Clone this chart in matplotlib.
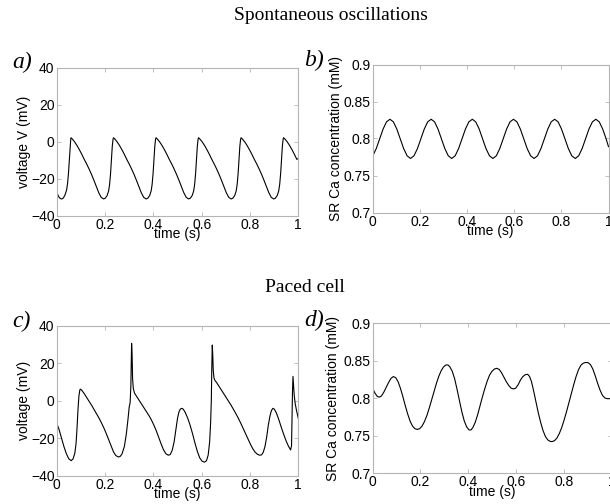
import numpy as np
import matplotlib
matplotlib.use("Agg")
import matplotlib.pyplot as plt

# time (s) / value pairs
# a) spontaneous oscillations, membrane voltage (mV)
t_a = [0.000, 0.005, 0.010, 0.015, 0.021, 0.028, 0.035, 0.041, 0.045, 0.049, 0.053, 0.056, 0.058,
       0.059, 0.064, 0.074, 0.084, 0.094, 0.104, 0.114, 0.124, 0.134, 0.144, 0.154, 0.164, 0.174,
       0.184, 0.194, 0.201, 0.209, 0.215, 0.219, 0.223, 0.227, 0.230, 0.233,
       0.235, 0.240, 0.250, 0.260, 0.270, 0.280, 0.290, 0.300, 0.310, 0.320, 0.330, 0.340, 0.350,
       0.360, 0.370, 0.377, 0.385, 0.391, 0.395, 0.399, 0.403, 0.406, 0.409,
       0.411, 0.416, 0.426, 0.436, 0.446, 0.456, 0.466, 0.476, 0.486, 0.496, 0.506, 0.516, 0.526,
       0.536, 0.546, 0.553, 0.561, 0.567, 0.571, 0.575, 0.579, 0.582, 0.585,
       0.587, 0.592, 0.602, 0.612, 0.622, 0.632, 0.642, 0.652, 0.662, 0.672, 0.682, 0.692, 0.702,
       0.712, 0.722, 0.729, 0.737, 0.743, 0.747, 0.751, 0.755, 0.758, 0.761,
       0.763, 0.768, 0.778, 0.788, 0.798, 0.808, 0.818, 0.828, 0.838, 0.848, 0.858, 0.868, 0.878,
       0.888, 0.898, 0.905, 0.913, 0.919, 0.923, 0.927, 0.931, 0.934, 0.937,
       0.939, 0.944, 0.954, 0.964, 0.974, 0.984, 0.994, 1.000]
v_a = [-26.7, -28.8, -30.0, -30.7, -30.9, -30.3, -28.5, -26.0, -22.5, -16.5, -8.5, -2.0, 1.3,
       2.2, 1.6, 0.0, -2.0, -4.3, -6.8, -9.5, -12.0, -14.7, -17.6, -20.8, -24.2, -27.5,
       -30.0, -30.9, -30.5, -29.0, -26.5, -23.0, -17.0, -9.0, -2.5, 1.2,
       2.2, 1.6, 0.0, -2.0, -4.3, -6.8, -9.5, -12.0, -14.7, -17.6, -20.8, -24.2, -27.5,
       -30.0, -30.9, -30.5, -29.0, -26.5, -23.0, -17.0, -9.0, -2.5, 1.2,
       2.2, 1.6, 0.0, -2.0, -4.3, -6.8, -9.5, -12.0, -14.7, -17.6, -20.8, -24.2, -27.5,
       -30.0, -30.9, -30.5, -29.0, -26.5, -23.0, -17.0, -9.0, -2.5, 1.2,
       2.2, 1.6, 0.0, -2.0, -4.3, -6.8, -9.5, -12.0, -14.7, -17.6, -20.8, -24.2, -27.5,
       -30.0, -30.9, -30.5, -29.0, -26.5, -23.0, -17.0, -9.0, -2.5, 1.2,
       2.2, 1.6, 0.0, -2.0, -4.3, -6.8, -9.5, -12.0, -14.7, -17.6, -20.8, -24.2, -27.5,
       -30.0, -30.9, -30.5, -29.0, -26.5, -23.0, -17.0, -9.0, -2.5, 1.2,
       2.2, 1.6, 0.0, -2.0, -4.3, -6.8, -9.5, -9.0]

# b) spontaneous oscillations, SR Ca (mM)
t_b = [0.000, 0.0012, 0.0158, 0.0303, 0.0449, 0.0594, 0.0739, 0.0885, 0.1030, 0.1176, 0.1321,
       0.1467, 0.1612, 0.1757, 0.1903, 0.2048, 0.2194, 0.2339, 0.2485, 0.2630, 0.2775, 0.2921,
       0.3066, 0.3211, 0.3357, 0.3502, 0.3647, 0.3793, 0.3938, 0.4083, 0.4229, 0.4374, 0.4520,
       0.4665, 0.4810, 0.4956, 0.5101, 0.5247, 0.5392, 0.5537, 0.5683, 0.5828, 0.5974, 0.6119,
       0.6264, 0.6410, 0.6555, 0.6701, 0.6846, 0.6991, 0.7137, 0.7282, 0.7428, 0.7573, 0.7718,
       0.7864, 0.8009, 0.8155, 0.8300, 0.8445, 0.8591, 0.8736, 0.8882, 0.9027, 0.9172, 0.9318,
       0.9463, 0.9609, 0.9754, 0.9899, 1.000]
ca_b = [0.776, 0.7766, 0.7863, 0.7995, 0.8128, 0.8225, 0.826, 0.8225, 0.8128, 0.7995, 0.7863,
        0.7766, 0.773, 0.7766, 0.7863, 0.7995, 0.8128, 0.8225, 0.826, 0.8225, 0.8128, 0.7995,
        0.7863, 0.7766, 0.773, 0.7766, 0.7863, 0.7995, 0.8128, 0.8225, 0.826, 0.8225, 0.8128,
        0.7995, 0.7863, 0.7766, 0.773, 0.7766, 0.7863, 0.7995, 0.8128, 0.8225, 0.826, 0.8225,
        0.8128, 0.7995, 0.7863, 0.7766, 0.773, 0.7766, 0.7863, 0.7995, 0.8128, 0.8225, 0.826,
        0.8225, 0.8128, 0.7995, 0.7863, 0.7766, 0.773, 0.7766, 0.7863, 0.7995, 0.8128, 0.8225,
        0.826, 0.8225, 0.8128, 0.7995, 0.789]

# c) paced cell, voltage (mV)
t_c = [0.000, 0.010, 0.020, 0.030, 0.040, 0.050, 0.060, 0.068, 0.075, 0.080, 0.084, 0.088, 0.092,
       0.096, 0.099, 0.105, 0.115, 0.125, 0.135, 0.145, 0.155, 0.165, 0.175, 0.185, 0.195, 0.205,
       0.215, 0.225, 0.235, 0.245, 0.255, 0.262, 0.270, 0.280, 0.288, 0.295, 0.300, 0.304, 0.307,
       0.309, 0.310, 0.312, 0.314, 0.317, 0.322, 0.332, 0.342, 0.352, 0.362, 0.372, 0.382, 0.392,
       0.402, 0.412, 0.422, 0.432, 0.442, 0.452, 0.462, 0.470, 0.478, 0.486, 0.494, 0.500, 0.506,
       0.512, 0.518, 0.524, 0.532, 0.542, 0.552, 0.562, 0.572, 0.582, 0.592, 0.602, 0.612, 0.620,
       0.627, 0.633, 0.637, 0.640, 0.642, 0.644, 0.646, 0.648, 0.651, 0.656, 0.661, 0.671, 0.681,
       0.691, 0.701, 0.711, 0.721, 0.731, 0.741, 0.751, 0.761, 0.771, 0.781, 0.791, 0.801, 0.811,
       0.821, 0.831, 0.840, 0.848, 0.855, 0.862, 0.869, 0.876, 0.883, 0.889, 0.895, 0.901, 0.909,
       0.919, 0.929, 0.939, 0.949, 0.959, 0.968, 0.972, 0.974, 0.976, 0.978, 0.980, 0.983, 0.987,
       0.993, 1.000]
v_c = [-12.0, -15.5, -20.0, -24.5, -28.3, -31.0, -32.0, -31.0, -28.0, -23.0, -15.0, -5.0, 2.5,
       5.8, 6.1, 5.3, 3.5, 1.5, -0.5, -2.6, -4.8, -7.0, -9.3, -11.8, -14.5, -17.5,
       -20.8, -24.2, -27.3, -29.3, -30.0, -29.8, -28.5, -24.5, -18.0, -10.0, -3.5, -1.0, 8.0,
       25.0, 30.5, 25.0, 12.0, 6.5, 4.0, 2.0, 0.0, -2.0, -4.0, -6.0, -8.0, -10.3,
       -13.0, -16.0, -19.5, -23.0, -26.2, -28.3, -29.1, -28.7, -26.5, -22.0, -15.0, -9.5, -6.0,
       -4.5, -4.1, -4.6, -6.3, -9.3, -13.0, -17.5, -22.5, -27.0, -30.5, -32.3, -32.8, -32.0,
       -29.0, -22.0, -12.0, 0.0, 18.0, 29.6, 24.0, 16.0, 12.0, 10.5, 9.8, 7.8, 5.8,
       3.8, 1.8, -0.2, -2.3, -4.5, -6.8, -9.2, -11.8, -14.6, -17.3, -20.2, -23.0, -25.5,
       -27.4, -28.6, -29.1, -28.9, -27.5, -24.5, -19.5, -13.0, -8.0, -5.2, -4.1, -4.6, -6.5,
       -10.0, -14.0, -17.8, -21.3, -24.2, -26.3, -24.0, -10.0, 5.0, 12.9, 9.0, 3.0, -1.5,
       -5.5, -9.5]

# d) paced cell, SR Ca (mM)
t_d = [0.000, 0.010, 0.020, 0.028, 0.037, 0.047, 0.057, 0.067, 0.077, 0.087, 0.097, 0.107, 0.117,
       0.127, 0.137, 0.147, 0.157, 0.167, 0.177, 0.187, 0.197, 0.207, 0.217, 0.227, 0.237, 0.247,
       0.257, 0.267, 0.277, 0.287, 0.297, 0.307, 0.315, 0.323, 0.333, 0.343, 0.353, 0.363, 0.373,
       0.383, 0.393, 0.403, 0.411, 0.419, 0.429, 0.439, 0.449, 0.459, 0.469, 0.479, 0.489, 0.499,
       0.509, 0.519, 0.529, 0.539, 0.549, 0.559, 0.569, 0.579, 0.589, 0.598, 0.608, 0.618, 0.628,
       0.638, 0.648, 0.656, 0.664, 0.672, 0.682, 0.692, 0.702, 0.712, 0.722, 0.732, 0.742, 0.750,
       0.760, 0.770, 0.780, 0.790, 0.800, 0.810, 0.820, 0.830, 0.840, 0.850, 0.860, 0.870, 0.880,
       0.890, 0.900, 0.910, 0.920, 0.930, 0.940, 0.950, 0.960, 0.970, 0.980, 0.990, 1.000]
ca_d = [0.8135, 0.807, 0.8025, 0.8015, 0.803, 0.808, 0.8145, 0.821, 0.8265, 0.829, 0.8275, 0.822,
        0.813, 0.802, 0.790, 0.779, 0.7695, 0.763, 0.7595, 0.7585, 0.7595, 0.763, 0.769, 0.777,
        0.787, 0.798, 0.809, 0.820, 0.8295, 0.837, 0.842, 0.8445, 0.8445, 0.842, 0.836, 0.826,
        0.812, 0.797, 0.782, 0.770, 0.762, 0.7578, 0.7578, 0.761, 0.768, 0.778, 0.790, 0.802,
        0.813, 0.823, 0.831, 0.836, 0.839, 0.840, 0.8385, 0.834, 0.828, 0.822, 0.817, 0.8135,
        0.8125, 0.8135, 0.818, 0.8245, 0.829, 0.8315, 0.832, 0.829, 0.822, 0.811, 0.796, 0.781,
        0.768, 0.757, 0.749, 0.7445, 0.7425, 0.7423, 0.7435, 0.747, 0.753, 0.761, 0.771, 0.782,
        0.794, 0.806, 0.818, 0.829, 0.838, 0.844, 0.8468, 0.8478, 0.8475, 0.845, 0.839, 0.830,
        0.820, 0.811, 0.804, 0.8005, 0.7995, 0.7995, 0.7995]

x_ticks = [0, 0.2, 0.4, 0.6, 0.8, 1]
x_labels = ["0", "0.2", "0.4", "0.6", "0.8", "1"]
v_ticks = [-40, -20, 0, 20, 40]
v_labels = ["\u221240", "\u221220", "0", "20", "40"]
ca_ticks = [0.7, 0.75, 0.8, 0.85, 0.9]
ca_labels = ["0.7", "0.75", "0.8", "0.85", "0.9"]

plt.rcParams['font.family'] = ['Liberation Sans', 'DejaVu Sans']
W, H = 610, 504
fig = plt.figure(figsize=(W / 100, H / 100), dpi=100)


def px_axes(l, t, r, b):
    return fig.add_axes([l / W, 1 - b / H, (r - l) / W, (b - t) / H])


def style(ax, yticks, ylabels, ylabel, ylim, ylab_x):
    ax.set_xlim(0, 1)
    ax.set_ylim(*ylim)
    ax.set_xticks(x_ticks)
    ax.set_xticklabels(x_labels)
    ax.set_yticks(yticks)
    ax.set_yticklabels(ylabels)
    for sp in ax.spines.values():
        sp.set_color('#b4b4b4')
        sp.set_linewidth(0.8)
    ax.tick_params(direction='in', length=3, width=0.6, color='#b4b4b4',
                   top=True, right=True, labelsize=10, labelcolor='black')
    ax.tick_params(axis='x', pad=1.5)
    ax.tick_params(axis='y', pad=1.5)
    ax.set_xlabel("time (s)", fontsize=10)
    ax.xaxis.set_label_coords(0.5, -0.078)
    ax.set_ylabel(ylabel, fontsize=10)
    ax.yaxis.set_label_coords(ylab_x, 0.5)
    ax.yaxis.label.set_verticalalignment('center')


ax_a = px_axes(56.7, 67.8, 298.3, 215.8)
ax_a.plot(t_a, v_a, color='black', lw=0.8)
style(ax_a, v_ticks, v_labels, "voltage V (mV)", (-40, 40), -0.135)

ax_b = px_axes(372.5, 64.5, 608.5, 212.5)
ax_b.plot(t_b, ca_b, color='black', lw=0.8)
style(ax_b, ca_ticks, ca_labels, "SR Ca concentration (mM)", (0.7, 0.9), -0.155)

ax_c = px_axes(56.7, 325.5, 298.3, 475.7)
ax_c.plot(t_c, v_c, color='black', lw=0.8)
style(ax_c, v_ticks, v_labels, "voltage (mV)", (-40, 40), -0.135)

ax_d = px_axes(372.5, 323.3, 612.0, 473.3)
ax_d.plot(t_d, ca_d, color='black', lw=0.8)
style(ax_d, ca_ticks, ca_labels, "SR Ca concentration (mM)", (0.7, 0.9), -0.163)

serif = ['Liberation Serif', 'DejaVu Serif']
fig.text(331 / W, 1 - 15 / H, "Spontaneous oscillations", ha='center', va='center',
         family=serif, fontsize=14)
fig.text(305 / W, 1 - 288 / H, "Paced cell", ha='center', va='center',
         family=serif, fontsize=14)
for lab, x, y in [("a)", 22, 62), ("b)", 314, 60), ("c)", 21, 321), ("d)", 314, 320)]:
    fig.text(x / W, 1 - y / H, lab, ha='center', va='center', family=serif,
             style='italic', fontsize=17)

fig.savefig("out.png", dpi=100)
